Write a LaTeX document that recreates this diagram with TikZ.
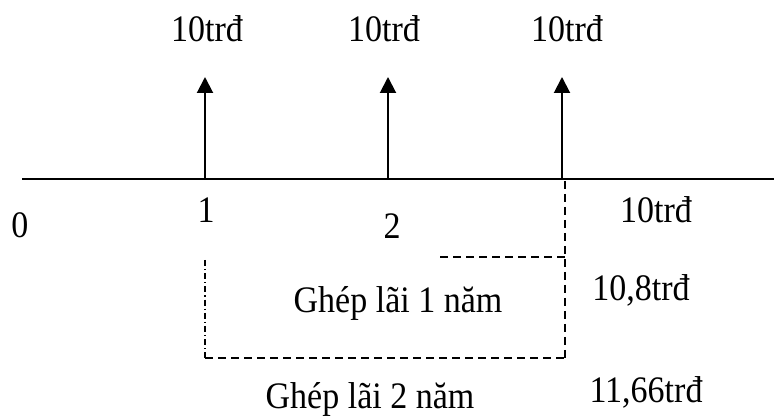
\documentclass[tikz,border=0pt]{standalone}
\usepackage{fontspec}
\usepackage{graphicx}
\setmainfont{Liberation Serif}
\usetikzlibrary{arrows.meta}
\newcommand{\stretchtxt}[1]{\scalebox{1}[1.1]{#1}}
\begin{document}
\begin{tikzpicture}[x=1pt,y=-1pt,
  lbl/.style={inner sep=0pt,anchor=base,font=\fontsize{34}{40}\selectfont},
  flow/.style={line width=2pt,-{Triangle[width=16pt,length=16pt]}},
  axisline/.style={line width=2pt},
  dsh/.style={line width=1.6pt,dash pattern=on 8pt off 5pt},
  dshdot/.style={line width=1.1pt,dash pattern=on 6pt off 3pt on 1.2pt off 3pt}]
\useasboundingbox (0,0) rectangle (774,419);
% axis
\coordinate (a0) at (22,179);
\coordinate (aend) at (774,179);
\draw[axisline] (a0) -- (aend);
% cash flows
\coordinate (p1) at (205,179); \coordinate (t1) at (205,77);
\coordinate (p2) at (388,179); \coordinate (t2) at (388,77);
\coordinate (p3) at (562,179); \coordinate (t3) at (562,77);
\draw[flow] (p1) -- (t1);
\draw[flow] (p2) -- (t2);
\draw[flow] (p3) -- (t3);
\node[lbl] (v1) at (207,42) {\stretchtxt{10trđ}};
\node[lbl] (v2) at (384,42) {\stretchtxt{10trđ}};
\node[lbl] (v3) at (567,42) {\stretchtxt{10trđ}};
% axis labels
\node[lbl] (n0) at (20,238) {\stretchtxt{0}};
\node[lbl] (n1) at (206,223) {\stretchtxt{1}};
\node[lbl] (n2) at (392,239) {\stretchtxt{2}};
\node[lbl] (r1) at (656,223) {\stretchtxt{10trđ}};
% dashed compounding lines
\coordinate (d3top) at (565,181);
\coordinate (d3bot) at (565,358);
\coordinate (h1l) at (440,257);
\coordinate (h1r) at (565,257);
\coordinate (l1top) at (205,260);
\coordinate (l1bot) at (205,358);
\draw[dsh] (d3top) -- (d3bot);
\draw[dsh] (h1l) -- (h1r);
\draw[dshdot] (l1top) -- (l1bot);
\draw[dsh] (l1bot) -- (d3bot);
\node[lbl] (g1) at (398,313) {\stretchtxt{Ghép lãi 1 năm}};
\node[lbl] (r2) at (641,301) {\stretchtxt{10,8trđ}};
\node[lbl] (g2) at (370,409) {\stretchtxt{Ghép lãi 2 năm}};
\node[lbl] (r3) at (646,403) {\stretchtxt{11,66trđ}};
\end{tikzpicture}
\end{document}
